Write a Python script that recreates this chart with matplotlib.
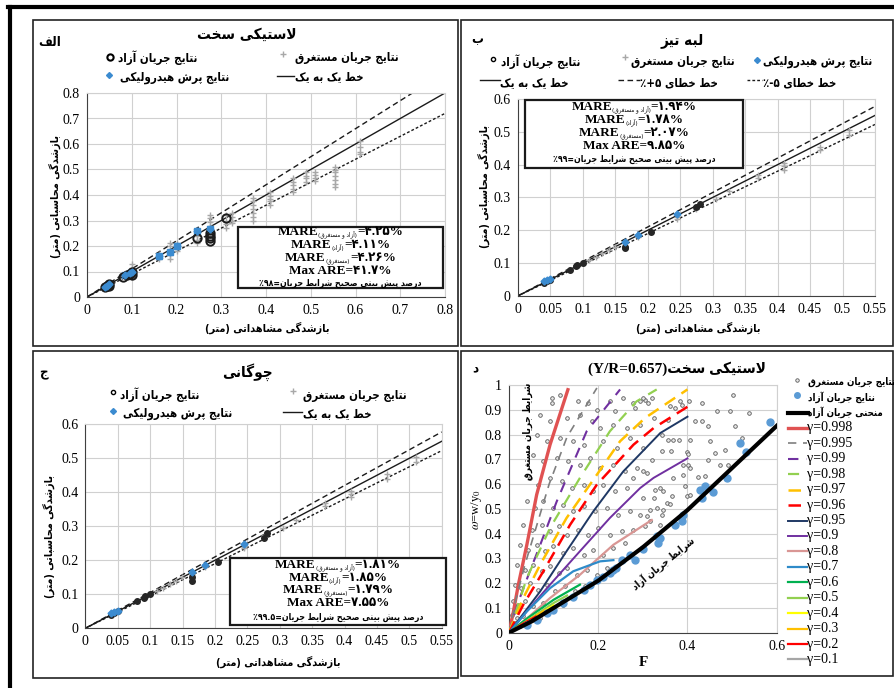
import re
import matplotlib
matplotlib.use('Agg')
import matplotlib.pyplot as plt
from matplotlib.lines import Line2D
from matplotlib.patches import Rectangle
from matplotlib.ticker import MultipleLocator, FuncFormatter
from matplotlib.offsetbox import TextArea, HPacker, AnchoredOffsetbox

plt.rcParams['mathtext.fontset'] = 'stix'

W, H = 895, 688
PFONT = 'DejaVu Sans'        # فونت متن فارسی
SFONT = 'Liberation Serif'   # فونت اعداد و متن لاتین

# ---------------- داده ها ----------------

# الف - لاستیکی سخت
a_free_obs = [0.040, 0.045, 0.050, 0.050, 0.080, 0.090, 0.095, 0.100, 0.100,
              0.245, 0.275, 0.275, 0.275, 0.275, 0.310]
a_free_calc = [0.040, 0.045, 0.050, 0.045, 0.080, 0.085, 0.090, 0.100, 0.085,
               0.230, 0.220, 0.230, 0.240, 0.250, 0.310]
a_jump_obs = [0.040, 0.045, 0.050, 0.085, 0.095, 0.100, 0.160, 0.185, 0.200,
              0.245, 0.275]
a_jump_calc = [0.040, 0.045, 0.050, 0.085, 0.095, 0.100, 0.160, 0.175, 0.200,
               0.260, 0.265]
a_sub_obs = [0.10, 0.10, 0.10, 0.10, 0.16, 0.16, 0.16, 0.185, 0.185, 0.185,
             0.185, 0.185, 0.20, 0.20, 0.20, 0.245, 0.245, 0.245, 0.245, 0.245,
             0.275, 0.275, 0.275, 0.275, 0.275, 0.275, 0.31, 0.31, 0.31, 0.31,
             0.325, 0.325, 0.325, 0.325, 0.37, 0.37, 0.37, 0.37, 0.37, 0.37,
             0.37, 0.41, 0.41, 0.41, 0.41, 0.41, 0.46, 0.46, 0.46, 0.46, 0.46,
             0.49, 0.49, 0.49, 0.49, 0.51, 0.51, 0.51, 0.51, 0.555, 0.555,
             0.555, 0.555, 0.555, 0.555, 0.555, 0.61, 0.61, 0.61, 0.61]
a_sub_calc = [0.08, 0.10, 0.115, 0.13, 0.15, 0.16, 0.17, 0.15, 0.165, 0.18,
              0.20, 0.21, 0.18, 0.20, 0.21, 0.21, 0.225, 0.24, 0.25, 0.26,
              0.24, 0.26, 0.28, 0.295, 0.31, 0.32, 0.27, 0.285, 0.30, 0.32,
              0.29, 0.30, 0.315, 0.33, 0.30, 0.315, 0.33, 0.345, 0.36, 0.375,
              0.39, 0.36, 0.375, 0.385, 0.395, 0.41, 0.41, 0.425, 0.44, 0.45,
              0.465, 0.45, 0.465, 0.475, 0.49, 0.455, 0.465, 0.48, 0.49, 0.43,
              0.445, 0.46, 0.475, 0.49, 0.50, 0.51, 0.56, 0.57, 0.59, 0.61]

# ب - لبه تیز
b_free_obs = [0.040, 0.045, 0.050, 0.080, 0.090, 0.092, 0.100, 0.165, 0.165,
              0.205, 0.275, 0.280]
b_free_calc = [0.040, 0.045, 0.050, 0.080, 0.090, 0.095, 0.100, 0.145, 0.150,
               0.195, 0.270, 0.280]
b_jump_obs = [0.040, 0.045, 0.050, 0.165, 0.185, 0.245]
b_jump_calc = [0.045, 0.048, 0.052, 0.165, 0.185, 0.250]
b_sub_obs = [0.11, 0.12, 0.13, 0.14, 0.15, 0.165, 0.185, 0.245, 0.245, 0.275,
             0.275, 0.305, 0.325, 0.37, 0.37, 0.41, 0.41, 0.41, 0.465, 0.465,
             0.51, 0.51]
b_sub_calc = [0.11, 0.12, 0.13, 0.14, 0.15, 0.16, 0.18, 0.235, 0.24, 0.265,
              0.27, 0.295, 0.32, 0.36, 0.37, 0.385, 0.395, 0.405, 0.445, 0.455,
              0.49, 0.505]

# ج - چوگانی
c_free_obs = [0.040, 0.045, 0.050, 0.080, 0.090, 0.092, 0.100, 0.165, 0.165,
              0.205, 0.275, 0.280]
c_free_calc = [0.040, 0.045, 0.050, 0.080, 0.090, 0.095, 0.100, 0.140, 0.150,
               0.195, 0.265, 0.280]
c_jump_obs = [0.040, 0.045, 0.050, 0.165, 0.185, 0.245]
c_jump_calc = [0.044, 0.048, 0.052, 0.165, 0.185, 0.248]
c_sub_obs = [0.11, 0.12, 0.13, 0.14, 0.15, 0.165, 0.185, 0.245, 0.245, 0.275,
             0.275, 0.305, 0.325, 0.37, 0.37, 0.41, 0.41, 0.41, 0.465, 0.465,
             0.51, 0.51]
c_sub_calc = [0.11, 0.12, 0.13, 0.14, 0.15, 0.16, 0.18, 0.235, 0.24, 0.265,
              0.275, 0.295, 0.32, 0.36, 0.37, 0.385, 0.395, 0.405, 0.44, 0.455,
              0.49, 0.505]

# خطوط خطا (ضریب شیب)
a_err = [1.10, 0.90]
bc_err = [1.05, 0.95]

# آماره ها
a_stats = ['۴.۲۵', '۴.۱۱', '۴.۲۶', '۴۱.۷', '۹۸']
b_stats = ['۱.۹۴', '۱.۷۸', '۲.۰۷', '۹.۸۵', '۹۹']
c_stats = ['۱.۸۱', '۱.۸۵', '۱.۷۹', '۷.۵۵', '۹۹.۵']

# د - منحنی ها
free_curve_F = [0, 0.05, 0.10, 0.20, 0.30, 0.40, 0.50, 0.60]
free_curve_w = [0, 0.045, 0.10, 0.21, 0.345, 0.495, 0.665, 0.835]

gamma_labels = ['0.998', '0.995', '0.99', '0.98', '0.97', '0.96', '0.95', '0.9',
                '0.8', '0.7', '0.6', '0.5', '0.4', '0.3', '0.2', '0.1']
gamma_F = [
    [0, 0.010, 0.021, 0.040, 0.062, 0.092, 0.132],
    [0, 0.015, 0.035, 0.060, 0.090, 0.130, 0.197],
    [0, 0.020, 0.045, 0.070, 0.107, 0.174, 0.249],
    [0, 0.040, 0.092, 0.159, 0.226, 0.286, 0.331],
    [0, 0.032, 0.070, 0.129, 0.197, 0.249, 0.305, 0.400],
    [0, 0.032, 0.077, 0.137, 0.197, 0.279, 0.324, 0.400],
    [0, 0.070, 0.129, 0.189, 0.256, 0.339, 0.400],
    [0, 0.040, 0.092, 0.159, 0.226, 0.294, 0.324, 0.400],
    [0, 0.040, 0.092, 0.159, 0.234, 0.320],
    [0, 0.040, 0.092, 0.144, 0.204, 0.234],
    [0, 0.040, 0.100, 0.159],
    [0, 0.050, 0.100, 0.130],
    [0, 0.050, 0.100],
    [0, 0.040, 0.080],
    [0, 0.030, 0.060],
    [0, 0.030, 0.050],
]
gamma_w = [
    [0, 0.086, 0.194, 0.355, 0.557, 0.759, 0.981],
    [0, 0.130, 0.270, 0.420, 0.600, 0.790, 0.988],
    [0, 0.120, 0.240, 0.355, 0.530, 0.813, 0.982],
    [0, 0.221, 0.423, 0.625, 0.813, 0.934, 0.982],
    [0, 0.140, 0.275, 0.463, 0.638, 0.773, 0.867, 0.982],
    [0, 0.113, 0.248, 0.436, 0.598, 0.759, 0.826, 0.912],
    [0, 0.167, 0.329, 0.490, 0.651, 0.806, 0.872],
    [0, 0.086, 0.194, 0.329, 0.463, 0.584, 0.625, 0.704],
    [0, 0.057, 0.140, 0.234, 0.355, 0.455],
    [0, 0.086, 0.180, 0.248, 0.288, 0.293],
    [0, 0.057, 0.133, 0.194],
    [0, 0.060, 0.120, 0.150],
    [0, 0.055, 0.110],
    [0, 0.045, 0.090],
    [0, 0.035, 0.065],
    [0, 0.030, 0.050],
]

d_free_pts = [(0.585, 0.851), (0.518, 0.766), (0.531, 0.729), (0.488, 0.625),
              (0.458, 0.568), (0.439, 0.591), (0.428, 0.577), (0.432, 0.544),
              (0.391, 0.476), (0.387, 0.450), (0.372, 0.434), (0.331, 0.389),
              (0.339, 0.382), (0.335, 0.362), (0.301, 0.339), (0.283, 0.293),
              (0.271, 0.314), (0.253, 0.293), (0.234, 0.253), (0.226, 0.240),
              (0.240, 0.260), (0.210, 0.225), (0.197, 0.213), (0.182, 0.193),
              (0.167, 0.172), (0.144, 0.145), (0.122, 0.119), (0.099, 0.092),
              (0.085, 0.078), (0.062, 0.051), (0.040, 0.031)]

d_sub_pts = [
    (0.503, 0.961), (0.432, 0.927), (0.404, 0.937), (0.383, 0.937), (0.387, 0.920),
    (0.467, 0.894), (0.496, 0.894), (0.537, 0.887), (0.417, 0.853), (0.432, 0.853),
    (0.447, 0.833), (0.507, 0.833), (0.357, 0.779), (0.368, 0.779), (0.380, 0.779),
    (0.406, 0.779), (0.451, 0.773), (0.522, 0.786), (0.342, 0.800), (0.344, 0.732),
    (0.363, 0.732), (0.398, 0.729), (0.402, 0.721), (0.462, 0.725), (0.484, 0.739),
    (0.320, 0.698), (0.390, 0.676), (0.401, 0.676), (0.473, 0.676), (0.490, 0.678),
    (0.447, 0.698), (0.406, 0.665), (0.301, 0.651), (0.368, 0.625), (0.391, 0.638),
    (0.424, 0.627), (0.439, 0.631), (0.339, 0.584), (0.346, 0.571), (0.327, 0.577),
    (0.365, 0.551), (0.398, 0.551), (0.406, 0.557), (0.324, 0.544), (0.354, 0.524),
    (0.361, 0.520), (0.331, 0.503), (0.346, 0.497), (0.316, 0.497), (0.395, 0.591),
    (0.309, 0.470), (0.316, 0.450), (0.342, 0.476), (0.339, 0.436), (0.305, 0.430),
    (0.294, 0.934), (0.305, 0.941), (0.320, 0.948), (0.312, 0.927), (0.361, 0.914),
    (0.372, 0.907), (0.357, 0.860), (0.324, 0.867),
    (0.096, 0.948), (0.096, 0.927), (0.114, 0.961), (0.155, 0.934), (0.178, 0.927),
    (0.197, 0.900), (0.226, 0.934), (0.238, 0.894), (0.256, 0.948), (0.279, 0.927),
    (0.283, 0.907), (0.301, 0.948),
    (0.070, 0.880), (0.092, 0.853), (0.129, 0.867), (0.159, 0.880), (0.185, 0.853),
    (0.204, 0.826), (0.234, 0.840), (0.264, 0.826), (0.294, 0.840),
    (0.062, 0.800), (0.085, 0.773), (0.114, 0.786), (0.144, 0.773), (0.167, 0.759),
    (0.211, 0.773), (0.241, 0.746), (0.271, 0.786), (0.301, 0.746),
    (0.054, 0.719), (0.077, 0.692), (0.107, 0.705), (0.133, 0.692), (0.159, 0.678),
    (0.182, 0.705), (0.204, 0.665), (0.234, 0.678), (0.260, 0.651), (0.286, 0.665),
    (0.309, 0.645),
    (0.047, 0.625), (0.066, 0.598), (0.092, 0.625), (0.118, 0.611), (0.141, 0.584),
    (0.167, 0.598), (0.189, 0.571), (0.211, 0.598), (0.238, 0.571), (0.264, 0.584),
    (0.279, 0.625), (0.301, 0.544),
    (0.040, 0.530), (0.058, 0.503), (0.077, 0.530), (0.099, 0.503), (0.122, 0.517),
    (0.144, 0.490), (0.167, 0.510), (0.193, 0.490), (0.219, 0.503), (0.245, 0.476),
    (0.271, 0.490), (0.294, 0.476),
    (0.032, 0.436), (0.051, 0.416), (0.073, 0.436), (0.092, 0.409), (0.111, 0.430),
    (0.129, 0.396), (0.155, 0.416), (0.178, 0.396), (0.200, 0.423), (0.226, 0.396),
    (0.253, 0.409), (0.279, 0.416),
    (0.025, 0.355), (0.043, 0.335), (0.062, 0.355), (0.081, 0.329), (0.099, 0.349),
    (0.122, 0.322), (0.144, 0.342), (0.167, 0.315), (0.189, 0.335), (0.211, 0.315),
    (0.234, 0.342), (0.260, 0.362),
    (0.017, 0.275), (0.036, 0.254), (0.054, 0.275), (0.073, 0.248), (0.092, 0.268),
    (0.111, 0.241), (0.129, 0.261), (0.152, 0.234), (0.174, 0.254), (0.197, 0.234),
    (0.219, 0.261),
    (0.013, 0.194), (0.028, 0.180), (0.047, 0.201), (0.066, 0.174), (0.085, 0.194),
    (0.103, 0.167), (0.126, 0.187), (0.148, 0.167), (0.170, 0.187),
    (0.010, 0.127), (0.021, 0.113), (0.036, 0.127), (0.054, 0.107), (0.077, 0.120),
    (0.099, 0.100), (0.122, 0.113),
    (0.006, 0.073), (0.017, 0.059), (0.032, 0.066), (0.051, 0.052), (0.070, 0.059),
    (0.004, 0.032), (0.013, 0.039), (0.025, 0.026),
]

# ---------------- شکل دهی حروف فارسی ----------------

DUAL = {'ب': 0xFE8F, 'ت': 0xFE95, 'ث': 0xFE99, 'ج': 0xFE9D, 'ح': 0xFEA1,
        'خ': 0xFEA5, 'س': 0xFEB1, 'ش': 0xFEB5, 'ص': 0xFEB9, 'ض': 0xFEBD,
        'ط': 0xFEC1, 'ظ': 0xFEC5, 'ع': 0xFEC9, 'غ': 0xFECD, 'ف': 0xFED1,
        'ق': 0xFED5, 'ل': 0xFEDD, 'م': 0xFEE1, 'ن': 0xFEE5, 'ه': 0xFEE9,
        'پ': 0xFB56, 'چ': 0xFB7A, 'ک': 0xFB8E, 'گ': 0xFB92, 'ی': 0xFBFC}
RIGHT = {'ا': 0xFE8D, 'آ': 0xFE81, 'د': 0xFEA9, 'ذ': 0xFEAB, 'ر': 0xFEAD,
         'ز': 0xFEAF, 'و': 0xFEED, 'ژ': 0xFB8A}
LAM_ALEF = {'ا': (0xFEFB, 0xFEFC), 'آ': (0xFEF5, 0xFEF6)}
MIRROR = str.maketrans('()', ')(')


def shape(s):
    out = []
    i = 0
    while i < len(s):
        c = s[i]
        prev = s[i - 1] if i > 0 else ''
        nxt = s[i + 1] if i + 1 < len(s) else ''
        jp = prev in DUAL
        if c == 'ل' and nxt in LAM_ALEF:
            out.append(chr(LAM_ALEF[nxt][1 if jp else 0]))
            i += 2
            continue
        if c in DUAL:
            jn = nxt in DUAL or nxt in RIGHT
            k = 3 if (jp and jn) else 1 if jp else 2 if jn else 0
            out.append(chr(DUAL[c] + k))
        elif c in RIGHT:
            out.append(chr(RIGHT[c] + (1 if jp else 0)))
        else:
            out.append(c)
        i += 1
    return ''.join(out)


def fa(s):
    """متن فارسی به ترتیب نمایشی (چپ به راست)"""
    s = shape(s)
    toks = re.findall(r'[0-9\u06F0-\u06F9]+(?:\.[0-9\u06F0-\u06F9]+)*|[^0-9\u06F0-\u06F9]+', s)
    out = []
    for t in reversed(toks):
        if t[0].isdigit():
            out.append(t)
        else:
            out.append(t[::-1].translate(MIRROR))
    return ''.join(out)


# ---------------- ابزارهای رسم ----------------

fig = plt.figure(figsize=(W / 100, H / 100), dpi=100)


def fx(x):
    return x / W


def fy(y):
    return 1 - y / H


def ftext(x, y, s, size=9.5, ha='left', **kw):
    kw.setdefault('family', PFONT)
    kw.setdefault('weight', 'bold')
    kw.setdefault('stretch', 'condensed')
    return fig.text(fx(x), fy(y), s, size=size, ha=ha, va='center', **kw)


def fline(x0, x1, y0, y1=None, **kw):
    if y1 is None:
        y1 = y0
    fig.add_artist(Line2D([fx(x0), fx(x1)], [fy(y0), fy(y1)],
                          transform=fig.transFigure, **kw))


def fmark(x, y, **kw):
    fig.add_artist(Line2D([fx(x)], [fy(y)], transform=fig.transFigure,
                          linestyle='none', **kw))


def frect(x0, y0, x1, y1, **kw):
    fig.add_artist(Rectangle((fx(x0), fy(y1)), fx(x1) - fx(x0), fy(y0) - fy(y1),
                             transform=fig.transFigure, fill=False, **kw))


def make_axes(x0, y0, x1, y1, xmax, ymax, xstep, ystep):
    ax = fig.add_axes([fx(x0), fy(y1), fx(x1) - fx(x0), fy(y0) - fy(y1)])
    ax.set_xlim(0, xmax)
    ax.set_ylim(0, ymax)
    ax.xaxis.set_major_locator(MultipleLocator(xstep))
    ax.yaxis.set_major_locator(MultipleLocator(ystep))
    fmt = FuncFormatter(lambda v, p: f'{v:g}')
    ax.xaxis.set_major_formatter(fmt)
    ax.yaxis.set_major_formatter(fmt)
    ax.grid(True, color='#d0d0d0', lw=0.8)
    ax.set_axisbelow(True)
    for s in ('top', 'right'):
        ax.spines[s].set_color('#d0d0d0')
    for s in ('left', 'bottom'):
        ax.spines[s].set_color('#404040')
    ax.tick_params(length=0, pad=5, labelsize=10)
    for lab in ax.get_xticklabels() + ax.get_yticklabels():
        lab.set_family(SFONT)
    return ax


def stats_box(x0, y0, x1, y1, ys, vals):
    frect(x0, y0, x1, y1, lw=1.6, edgecolor='#1a1a1a', zorder=5)
    fig.add_artist(Rectangle((fx(x0), fy(y1)), fx(x1) - fx(x0), fy(y0) - fy(y1),
                             transform=fig.transFigure, facecolor='white',
                             edgecolor='none', zorder=4))
    cx = (x0 + x1) / 2
    bold = dict(family=[SFONT, PFONT], weight='bold', size=9.5,
                stretch='condensed')
    subs = ['آزاد و مستغرق', 'آزاد', 'مستغرق']
    for y, sub, v in zip(ys[:3], subs, vals[:3]):
        parts = [TextArea('MARE', textprops=bold),
                 TextArea(fa('(' + sub + ')'),
                          textprops=dict(family=PFONT, size=4.5,
                                         stretch='condensed')),
                 TextArea('=' + v + '%', textprops=bold)]
        box = HPacker(children=parts, align='bottom', pad=0, sep=0)
        ab = AnchoredOffsetbox(loc='center', child=box, pad=0, borderpad=0,
                               frameon=False, bbox_to_anchor=(fx(cx), fy(y)),
                               bbox_transform=fig.transFigure)
        ab.set_zorder(6)
        fig.add_artist(ab)
    t = ftext(cx, ys[3], 'Max ARE=' + vals[3] + '%', size=9.5, ha='center',
              family=[SFONT, PFONT])
    t.set_zorder(6)
    t = ftext(cx, ys[4], fa('درصد پیش بینی صحیح شرایط جریان=' + vals[4] + '٪'),
              size=6.3, ha='center')
    t.set_zorder(6)


def one_to_one(ax, xmax, err):
    ax.plot([0, xmax], [0, xmax], color='#1a1a1a', lw=1.0)
    ax.plot([0, xmax], [0, xmax * err[0]], color='#1a1a1a', lw=1.0,
            linestyle=(0, (4, 2.5)))
    ax.plot([0, xmax], [0, xmax * err[1]], color='#1a1a1a', lw=1.0,
            linestyle=(0, (2, 1.5)))


BLUE = '#3b8bd0'
GREY = '#a8a8a8'
LEG = 8.3    # اندازه متن راهنما
LAB = 7.8    # اندازه برچسب محورها

# ---------------- قاب ها ----------------
fline(8, 895, 7, lw=3, color='black')
fline(10, 10, 7, 688, lw=3, color='black')
frect(33, 20, 458, 346, lw=1.2, edgecolor='#222222')
frect(461, 20, 893, 346, lw=1.2, edgecolor='#222222')
frect(33, 351, 458, 678, lw=1.2, edgecolor='#222222')
frect(461, 351, 893, 676, lw=1.2, edgecolor='#222222')

# ---------------- الف ----------------
ax = make_axes(87, 93, 445, 297, 0.8, 0.8, 0.1, 0.1)
one_to_one(ax, 0.8, a_err)
ax.plot(a_sub_obs, a_sub_calc, linestyle='none', marker='+', ms=5, mew=1.0,
        color=GREY)
ax.plot(a_jump_obs, a_jump_calc, linestyle='none', marker='s', ms=5,
        color=BLUE)
ax.plot(a_free_obs, a_free_calc, linestyle='none', marker='o', ms=6,
        mfc='none', mec='#1a1a1a', mew=1.4)
ax.plot(a_jump_obs, a_jump_calc, linestyle='none', marker='D', ms=3.5,
        color=BLUE)
ftext(247, 34, fa('لاستیکی سخت'), size=11, ha='center')
ftext(50, 42, fa('الف'), size=9.5, ha='center')
fmark(110, 57, marker='o', ms=4.5, mfc='none', mec='black', mew=1.5)
ftext(118, 58, fa('نتایج جریان آزاد'), size=LEG)
fmark(283, 54, marker='+', ms=4, color=GREY)
ftext(295, 58, fa('نتایج جریان مستغرق'), size=LEG)
fmark(109, 75, marker='D', ms=3, color=BLUE)
ftext(120, 77, fa('نتایج پرش هیدرولیکی'), size=LEG)
fline(277, 294, 76, color='#1a1a1a', lw=1)
ftext(295, 77, fa('خط یک به یک'), size=LEG)
ftext(55, 197, fa('بازشدگی محاسباتی (متر)'), size=LAB, ha='center', rotation=90)
ftext(267, 328, fa('بازشدگی مشاهداتی (متر)'), size=LAB, ha='center')
stats_box(238, 227, 443, 288, [232, 245, 258, 271, 283], a_stats)

# ---------------- ب ----------------
ax = make_axes(517.7, 99, 875, 296, 0.55, 0.6, 0.05, 0.1)
one_to_one(ax, 0.55, bc_err)
ax.plot(b_sub_obs, b_sub_calc, linestyle='none', marker='+', ms=4, mew=1.0,
        color=GREY)
ax.plot(b_free_obs, b_free_calc, linestyle='none', marker='o', ms=4,
        color='#262626')
ax.plot(b_jump_obs, b_jump_calc, linestyle='none', marker='D', ms=3.5,
        color=BLUE)
ftext(682, 40, fa('لبه تیز'), size=11, ha='center')
ftext(477, 40, fa('ب'), size=9.5, ha='center')
fmark(757, 60, marker='D', ms=3, color=BLUE)
ftext(763, 62, fa('نتایج پرش هیدرولیکی'), size=LEG)
fmark(625, 57, marker='+', ms=4, color=GREY)
ftext(631, 62, fa('نتایج جریان مستغرق'), size=LEG)
fmark(493, 59, marker='o', ms=3, mfc='none', mec='black', mew=1)
ftext(501, 62, fa('نتایج جریان آزاد'), size=LEG)
fline(747, 762, 80, color='#1a1a1a', lw=1, linestyle=(0, (2, 1.5)))
ftext(763, 83, fa('خط خطای ۵-٪'), size=LEG)
fline(618, 640, 80, color='#1a1a1a', lw=1, linestyle=(0, (4, 2.5)))
ftext(640, 83, fa('خط خطای ۵+٪'), size=LEG)
fline(480, 500, 80, color='#1a1a1a', lw=1)
ftext(500, 83, fa('خط یک به یک'), size=LEG)
ftext(484, 187, fa('بازشدگی محاسباتی (متر)'), size=LAB, ha='center', rotation=90)
ftext(698, 328, fa('بازشدگی مشاهداتی (متر)'), size=LAB, ha='center')
stats_box(525, 100, 743, 168, [107, 120, 133, 146, 159], b_stats)

# ---------------- ج ----------------
ax = make_axes(85.3, 424.3, 441.7, 628.3, 0.55, 0.6, 0.05, 0.1)
one_to_one(ax, 0.55, bc_err)
ax.plot(c_sub_obs, c_sub_calc, linestyle='none', marker='+', ms=4, mew=1.0,
        color=GREY)
ax.plot(c_free_obs, c_free_calc, linestyle='none', marker='o', ms=4,
        color='#262626')
ax.plot(c_jump_obs, c_jump_calc, linestyle='none', marker='D', ms=3.5,
        color=BLUE)
ftext(247, 372, fa('چوگانی'), size=11, ha='center')
ftext(43, 373, fa('ج'), size=9.5, ha='center')
fmark(113, 392, marker='o', ms=3, mfc='none', mec='black', mew=1)
ftext(120, 395, fa('نتایج جریان آزاد'), size=LEG)
fmark(293, 391, marker='+', ms=4, color=GREY)
ftext(303, 395, fa('نتایج جریان مستغرق'), size=LEG)
fmark(113, 411, marker='D', ms=3, color=BLUE)
ftext(123, 414, fa('نتایج پرش هیدرولیکی'), size=LEG)
fline(283, 302, 412, color='#1a1a1a', lw=1)
ftext(303, 414, fa('خط یک به یک'), size=LEG)
ftext(49, 537, fa('بازشدگی محاسباتی (متر)'), size=LAB, ha='center', rotation=90)
ftext(278, 662, fa('بازشدگی مشاهداتی (متر)'), size=LAB, ha='center')
stats_box(230, 558, 446, 625, [565, 578, 590, 603, 617], c_stats)

# ---------------- د ----------------
ax = make_axes(509, 385, 776.7, 632.7, 0.6, 1.0, 0.2, 0.1)
styles = [
    dict(color='#e05252', lw=2.4),
    dict(color='#7f7f7f', lw=1.2, linestyle=(0, (5, 4))),
    dict(color='#7030a0', lw=1.5, linestyle=(0, (5, 4))),
    dict(color='#92d050', lw=1.6, linestyle=(0, (5, 4))),
    dict(color='#ffc000', lw=1.8, linestyle=(0, (5, 3))),
    dict(color='#ff0000', lw=1.8, linestyle=(0, (5, 3))),
    dict(color='#1f3864', lw=1.4),
    dict(color='#7030a0', lw=1.4),
    dict(color='#d99694', lw=1.6),
    dict(color='#2e8bc9', lw=1.6),
    dict(color='#00b050', lw=1.6),
    dict(color='#92d050', lw=1.6),
    dict(color='#ffff00', lw=1.6),
    dict(color='#ffc000', lw=1.6),
    dict(color='#ff0000', lw=1.6),
    dict(color='#a6a6a6', lw=1.6),
]
sub_F = [p[0] for p in d_sub_pts]
sub_w = [p[1] for p in d_sub_pts]
ax.plot(sub_F, sub_w, linestyle='none', marker='o', ms=2.6, mfc='#e8e8e8',
        mec='#595959', mew=0.6, zorder=2)
for Fs, ws, st in zip(gamma_F, gamma_w, styles):
    ax.plot(Fs, ws, zorder=3, **st)
ax.plot([p[0] for p in d_free_pts], [p[1] for p in d_free_pts],
        linestyle='none', marker='o', ms=5, color='#5b9bd5', zorder=3)
ax.plot(free_curve_F, free_curve_w, color='black', lw=3, zorder=4)
ax.text(0.043, 0.815, fa('شرایط جریان مستغرق'), family=PFONT, weight='bold',
        stretch='condensed', size=7, rotation=90, ha='center', va='center',
        zorder=5)
ax.text(0.345, 0.28, fa('شرایط جریان آزاد'), family=PFONT, weight='bold',
        stretch='condensed', size=7, rotation=39, ha='center', va='center',
        zorder=5)

ftext(677, 369, '(Y/R=0.657)' + fa('لاستیکی سخت'), size=11, ha='center',
      family=[SFONT, PFONT])
ftext(475, 368, fa('د'), size=9.5, ha='center')
ftext(477, 510, r'$\omega$=w/y$_0$', size=9, ha='center', rotation=90,
      family=SFONT, weight='normal')
ftext(643, 662, 'F', size=11, ha='center', family=SFONT)

# راهنمای نمودار د
leg_y0, leg_dy = 381.7, 15.43
fmark(797, leg_y0 - 2, marker='o', ms=2.5, mfc='#e8e8e8', mec='#595959', mew=0.6)
ftext(808, leg_y0, fa('نتایج جریان مستغرق'), size=7)
fmark(797, leg_y0 + leg_dy - 2, marker='o', ms=4, color='#5b9bd5')
ftext(808, leg_y0 + leg_dy, fa('نتایج جریان آزاد'), size=7)
fline(788, 808, leg_y0 + 2 * leg_dy, color='black', lw=3)
ftext(808, leg_y0 + 2 * leg_dy, fa('منحنی جریان آزاد'), size=7)
for i, (lab, st) in enumerate(zip(gamma_labels, styles)):
    yy = leg_y0 + (i + 3) * leg_dy
    fline(788, 807, yy, **st)
    ftext(807, yy, 'γ=' + lab, size=10, family=SFONT, weight='normal')

fig.savefig('out.png', dpi=100)
